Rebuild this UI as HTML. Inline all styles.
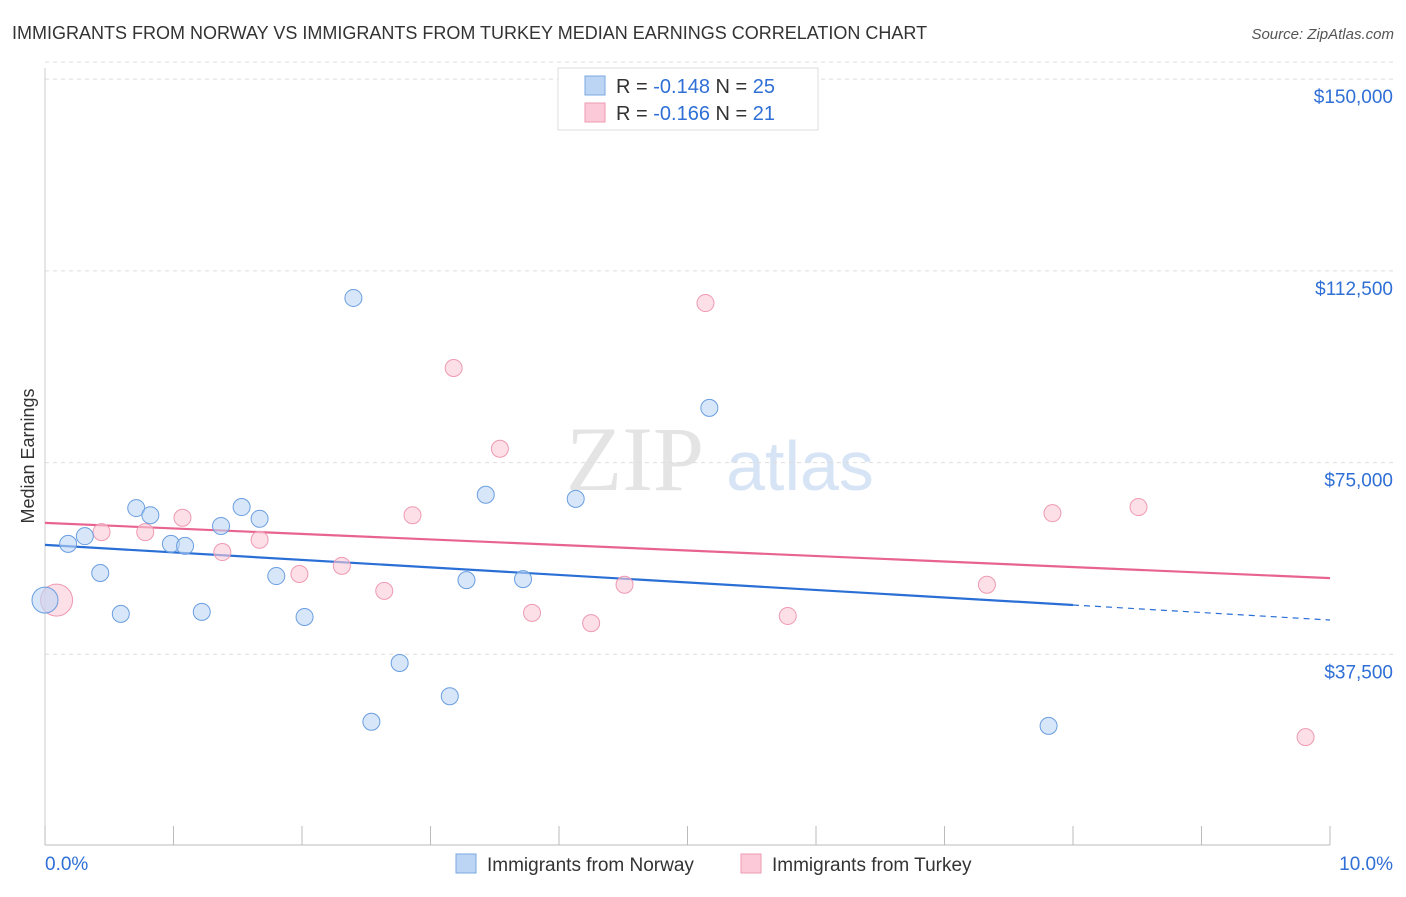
<!DOCTYPE html>
<html><head><meta charset="utf-8"><style>
body{margin:0;background:#fff;font-family:"Liberation Sans",sans-serif;}
</style></head><body>
<svg width="1406" height="892" xmlns="http://www.w3.org/2000/svg" id="svg">
<text x="12" y="39" font-size="18" fill="#333">IMMIGRANTS FROM NORWAY VS IMMIGRANTS FROM TURKEY MEDIAN EARNINGS CORRELATION CHART</text>
<text x="1394" y="39" font-size="15" fill="#555" text-anchor="end" font-style="italic">Source: ZipAtlas.com</text>
<text x="34" y="456" font-size="18" fill="#333" text-anchor="middle" transform="rotate(-90 34 456)">Median Earnings</text>
<g>
<text x="635" y="490" font-size="92" fill="#e4e4e4" text-anchor="middle" font-family="Liberation Serif,serif">ZIP</text>
<text x="800" y="490" font-size="70" fill="#d6e4f5" text-anchor="middle">atlas</text>
</g>
<g id="grid"></g><g id="lines"></g><g id="pts"></g>
<g>
<rect x="558" y="68" width="260" height="62" fill="#fff" stroke="#ddd"/>
<rect x="585" y="76" width="20" height="19" fill="#bcd5f5" stroke="#7aa8e0"/>
<rect x="585" y="103" width="20" height="19" fill="#fbc9d7" stroke="#ee9ab2"/>
<text x="616" y="93" font-size="20" fill="#333">R = <tspan fill="#2f6fd6">-0.148</tspan>   N = <tspan fill="#2f6fd6">25</tspan></text>
<text x="616" y="120" font-size="20" fill="#333">R = <tspan fill="#2f6fd6">-0.166</tspan>   N =  <tspan fill="#2f6fd6">21</tspan></text>
</g>
<g>
<rect x="456" y="854" width="20" height="19" fill="#bcd5f5" stroke="#7aa8e0"/>
<text x="487" y="871" font-size="19" fill="#333">Immigrants from Norway</text>
<rect x="741" y="854" width="20" height="19" fill="#fbc9d7" stroke="#ee9ab2"/>
<text x="772" y="871" font-size="19" fill="#333">Immigrants from Turkey</text>
</g>
<text x="45" y="870" font-size="19" fill="#2f6fd6">0.0%</text>
<text x="1393" y="870" font-size="19" fill="#2f6fd6" text-anchor="end">10.0%</text>
</svg>
<script>
const yTicks=[37500,75000,112500,150000];
const yTickLabels=["$37,500","$75,000","$112,500","$150,000"];
const norwayX=[0,0.18,0.31,0.43,0.59,0.71,0.82,0.98,1.09,1.22,1.37,1.53,1.67,1.80,2.02,2.40,2.54,2.76,3.15,3.28,3.43,3.72,4.13,5.17,7.81];
const norwayY=[48100,59100,60600,53400,45400,66100,64700,59100,58700,45800,62600,66300,64000,52800,44800,107200,24300,35800,29300,52000,68700,52200,67900,85700,23500];
const turkeyX=[0.09,0.44,0.78,1.07,1.38,1.67,1.98,2.31,2.64,2.86,3.18,3.54,3.79,4.25,4.51,5.14,5.78,7.33,7.84,8.51,9.81];
const turkeyY=[48100,61400,61400,64200,57500,59900,53200,54800,49900,64700,93500,77700,45600,43600,51100,106200,45000,51100,65100,66300,21300];
const norwayTrend=[58900,44200];
const turkeyTrend=[63200,52400];
const NS="http://www.w3.org/2000/svg";
const X=p=>45+p*128.5, Y=v=>846-v/195.6;
function mk(t,a,parent){const e=document.createElementNS(NS,t);for(const k in a)e.setAttribute(k,a[k]);document.getElementById(parent).appendChild(e);return e;}
yTicks.forEach((v,i)=>{
 let l=mk('line',{x1:45,x2:1393,y1:Y(v),y2:Y(v),stroke:'#ddd','stroke-dasharray':'4,4'},'grid');
 
 
 let t=mk('text',{x:1393,y:Y(v)+24,'font-size':19,fill:'#2f6fd6','text-anchor':'end'},'grid');t.textContent=yTickLabels[i];
 
 
});
let l2=mk('line',{x1:45,x2:1393,y1:Y(150000)-17,y2:Y(150000)-17,stroke:'#ddd','stroke-dasharray':'4,4'},'grid');
let ax=mk('line',{x1:45,x2:1330,y1:845,y2:845,stroke:'#bbb'},'grid');


let ay=mk('line',{x1:45,x2:45,y1:68,y2:845,stroke:'#ccc'},'grid');


for(let i=0;i<=10;i++){let t=mk('line',{x1:X(i),x2:X(i),y1:826,y2:845,stroke:'#bbb'},'grid');
 
 }
function trend(tr,col,name,solidEnd){
 const f=p=>tr[0]+(tr[1]-tr[0])*p/10;
 let a=mk('line',{x1:X(0),y1:Y(f(0)),x2:X(solidEnd),y2:Y(f(solidEnd)),stroke:col,'stroke-width':2.2},'lines');
 
 
 if(solidEnd<10){let b=mk('line',{x1:X(solidEnd),y1:Y(f(solidEnd)),x2:X(10),y2:Y(f(10)),stroke:col,'stroke-width':1.2,'stroke-dasharray':'6,5'},'lines');
  
  }
}
trend(norwayTrend,'#2a6fd6','norway-trend-line',8);
trend(turkeyTrend,'#e8648f','turkey-trend-line',10);
function pts(xs,ys,fill,stroke,name){xs.forEach((x,i)=>{
 const r=(i===0&&x<0.1)?(name==='turkey-point'?16:13):8.5;
 let c=mk('circle',{cx:X(x),cy:Y(ys[i]),r:r,fill:fill,stroke:stroke,'stroke-width':1,'fill-opacity':0.6},'pts');
 
 
});}
pts(turkeyX,turkeyY,'#fbc9d7','#ee9ab2','turkey-point');
pts(norwayX,norwayY,'#bcd5f5','#6a9ee0','norway-point');
</script>
</body></html>
